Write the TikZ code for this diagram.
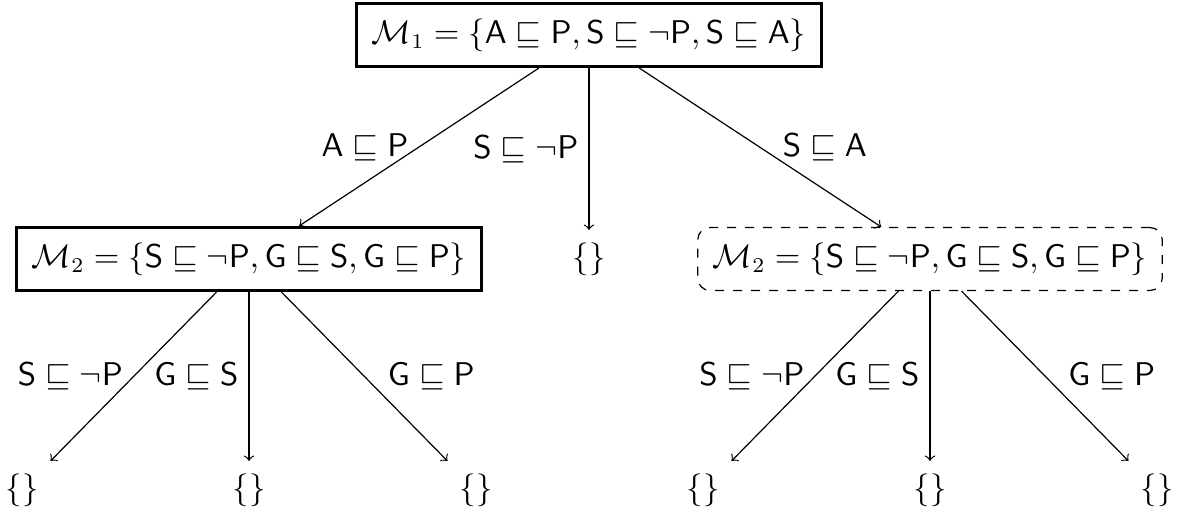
\documentclass[tikz,border=0pt]{standalone}
\newcommand{\sub}{\sqsubseteq}
\newcommand{\cA}{\mathsf{A}}
\newcommand{\cP}{\mathsf{P}}
\newcommand{\cS}{\mathsf{S}}
\newcommand{\cG}{\mathsf{G}}
\begin{document}
\begin{tikzpicture}[x=0.3333pt,y=-0.3333pt,
  font=\fontsize{10.5}{13}\selectfont,
  box/.style={draw, line width=1.1pt, inner xsep=5pt, inner ysep=5pt},
  dbox/.style={draw, dashed, rounded corners=4pt, inner xsep=5pt, inner ysep=5pt},
  leaf/.style={inner sep=4pt},
  edge/.style={->}]
\useasboundingbox (0,0) rectangle (1178,510);
\node[box] (r) at (589,35) {$\mathcal{M}_1 = \{\cA \sub \cP, \cS \sub \neg\cP, \cS \sub \cA\}$};
\node[box] (m) at (249,259) {$\mathcal{M}_2 = \{\cS \sub \neg\cP, \cG \sub \cS, \cG \sub \cP\}$};
\node[leaf] (e) at (589,259) {$\{\}$};
\node[dbox] (n) at (930,259) {$\mathcal{M}_2 = \{\cS \sub \neg\cP, \cG \sub \cS, \cG \sub \cP\}$};
\node[leaf] (l1) at (22,490) {$\{\}$};
\node[leaf] (l2) at (249,490) {$\{\}$};
\node[leaf] (l3) at (476,490) {$\{\}$};
\node[leaf] (l4) at (703,490) {$\{\}$};
\node[leaf] (l5) at (930,490) {$\{\}$};
\node[leaf] (l6) at (1157,490) {$\{\}$};
% level 1 edges
\draw[edge] (r) -- node[left] (a1) {$\cA \sub \cP$} (m);
\draw[edge] (r) -- node[left] (a2) {$\cS \sub \neg\cP$} (e);
\draw[edge] (r) -- node[right=4pt] (a3) {$\cS \sub \cA$} (n);
% level 2 left
\draw[edge] (m) -- node[left] (b1) {$\cS \sub \neg\cP$} (l1);
\draw[edge] (m) -- node[left] (b2) {$\cG \sub \cS$} (l2);
\draw[edge] (m) -- node[right=4.3pt] (b3) {$\cG \sub \cP$} (l3);
% level 2 right
\draw[edge] (n) -- node[left] (c1) {$\cS \sub \neg\cP$} (l4);
\draw[edge] (n) -- node[left] (c2) {$\cG \sub \cS$} (l5);
\draw[edge] (n) -- node[right=4.3pt] (c3) {$\cG \sub \cP$} (l6);
\end{tikzpicture}
\end{document}
